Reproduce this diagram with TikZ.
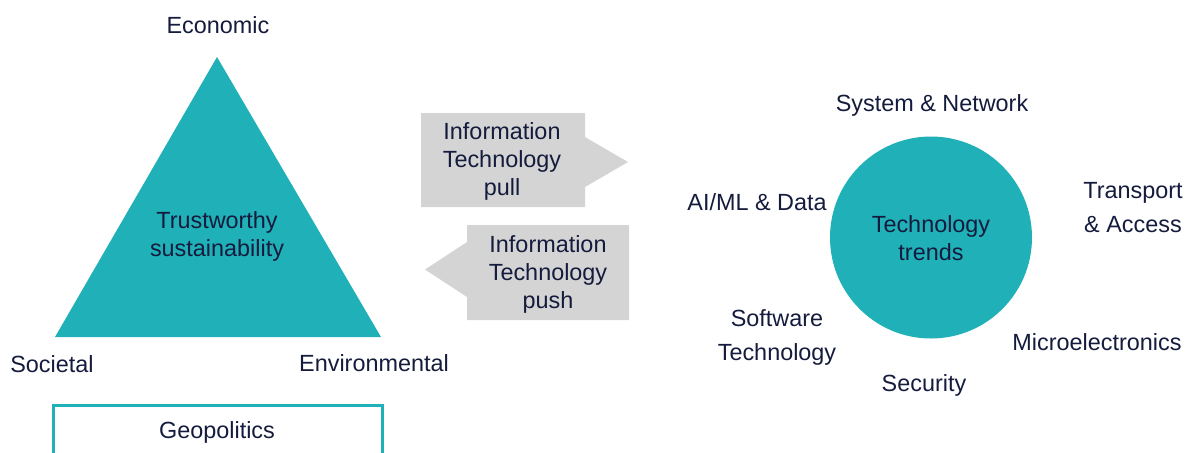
\documentclass[tikz,border=0pt]{standalone}
\usepackage{fontspec}
\setmainfont{Liberation Sans}
\usepackage{tikz}
\usetikzlibrary{positioning,calc}

\definecolor{trendteal}{HTML}{20B0B8}
\definecolor{ink}{HTML}{141B3C}
\definecolor{arrowgrey}{HTML}{D4D4D4}

\tikzset{
	lbl/.style={font=\fontsize{11.7}{14}\selectfont, text=ink, align=center, inner sep=0pt},
	widelbl/.style={lbl, font=\fontsize{11.7}{17}\selectfont},
	shade/.style={fill=arrowgrey, draw=none},
}

\begin{document}
\begin{tikzpicture}[x=0.5pt,y=-0.5pt]
	\clip (0,0) rectangle (1185,452);
	% sustainability triangle
	\coordinate (apex) at (217,57);
	\coordinate (soc) at (55,337);
	\coordinate (env) at (381,337);
	\fill [trendteal] (apex) -- (env) -- (soc) -- cycle;
	\node [lbl] (econ) at (218,25) {Economic};
	\node [lbl] (socl) at (52,364) {Societal};
	\node [lbl] (envl) at (374,363) {Environmental};
	\node [lbl] (trust) at (217,236) {Trustworthy\\sustainability};
	% geopolitics frame, runs off the bottom
	\draw [trendteal, line width=1.5pt] (53,405) rectangle (382,480);
	\node [lbl] (geo) at (217,432) {Geopolitics};
	% pull / push arrows
	\fill [shade] (421,113) -- (585,113) -- (585,137) -- (628,162) -- (585,187) -- (585,207) -- (421,207) -- cycle;
	\fill [shade] (629,225) -- (467,225) -- (467,242) -- (425,269.5) -- (467,297) -- (467,320) -- (629,320) -- cycle;
	\node [lbl] (pull) at (502,161) {Information\\Technology\\pull};
	\node [lbl] (push) at (548,274) {Information\\Technology\\push};
	% technology trends
	\fill [trendteal] (931,237.5) circle (101);
	\node [lbl] (trends) at (931,238) {Technology\\trends};
	\node [lbl] (sysnet) at (932,105) {System \& Network};
	\node [lbl] (aiml) at (757,202) {AI/ML \& Data};
	\node [widelbl] (trans) at (1133,208) {Transport\\\& Access};
	\node [widelbl] (soft) at (777,337) {Software\\Technology};
	\node [lbl] (micro) at (1097,342) {Microelectronics};
	\node [lbl] (secu) at (924,385) {Security};
\end{tikzpicture}
\end{document}
